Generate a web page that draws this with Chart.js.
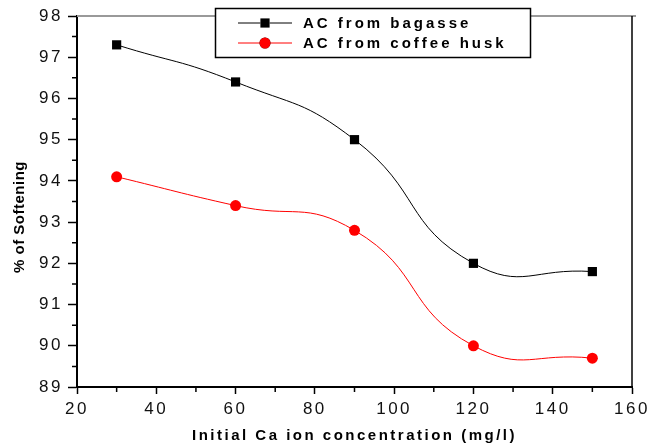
<!DOCTYPE html>
<html>
<head>
<meta charset="utf-8">
<script src="https://cdn.jsdelivr.net/npm/chart.js@4.4.1/dist/chart.umd.min.js"></script>
<style>
  html, body { margin: 0; padding: 0; background: #fff; }
  #wrap { width: 662px; height: 446px; }
</style>
</head>
<body>
<div id="wrap"><canvas id="chart"></canvas></div>
<script>
// data
const concentrations = [30, 60, 90, 120, 150];
const bagasse = [97.3, 96.4, 95.0, 92.0, 91.8];
const coffeeHusk = [94.1, 93.4, 92.8, 90.0, 89.7];
const seriesLabels = ['AC from bagasse', 'AC from coffee husk'];
const xTitle = 'Initial Ca ion concentration (mg/l)';
const yTitle = '% of Softening';

const FONT = "'Liberation Sans', Arial, sans-serif";

const toPoints = (ys) => concentrations.map((x, i) => ({ x: x, y: ys[i] }));

// minor ticks, frame, y title and boxed legend
const decor = {
  id: 'decor',
  beforeDraw(chart) {
    chart.ctx.letterSpacing = '2.5px';
  },
  afterDraw(chart) {
    const ctx = chart.ctx;
    const a = chart.chartArea;
    const xs = chart.scales.x;
    const ys = chart.scales.y;
    ctx.save();
    ctx.letterSpacing = '0px';

    // top & right frame
    ctx.strokeStyle = '#999';
    ctx.lineWidth = 2;
    ctx.beginPath();
    ctx.moveTo(a.left, a.top);
    ctx.lineTo(a.right + 4, a.top);
    ctx.stroke();
    ctx.strokeStyle = '#000';
    ctx.lineWidth = 1.5;
    ctx.beginPath();
    ctx.moveTo(a.right, a.top);
    ctx.lineTo(a.right, a.bottom);
    ctx.stroke();

    // minor ticks
    ctx.lineWidth = 1.5;
    ctx.beginPath();
    for (let v = 30; v < 160; v += 20) {
      const px = xs.getPixelForValue(v);
      ctx.moveTo(px, a.bottom);
      ctx.lineTo(px, a.bottom + 5);
    }
    for (let v = 89.5; v < 98; v += 1) {
      const py = ys.getPixelForValue(v);
      ctx.moveTo(a.left - 5, py);
      ctx.lineTo(a.left, py);
    }
    ctx.stroke();

    // y title
    ctx.fillStyle = '#000';
    ctx.font = 'bold 15px ' + FONT;
    ctx.letterSpacing = '0.5px';
    ctx.textAlign = 'center';
    ctx.textBaseline = 'middle';
    ctx.translate(20, 217);
    ctx.rotate(-Math.PI / 2);
    ctx.fillText(yTitle, 0, 0);
    ctx.restore();

    // legend
    ctx.save();
    ctx.fillStyle = '#fff';
    ctx.fillRect(215, 8, 315, 49);
    ctx.strokeStyle = '#000';
    ctx.lineWidth = 1.5;
    ctx.strokeRect(215.5, 8.5, 315, 49);
    chart.data.datasets.forEach((ds, i) => {
      const y = 23 + i * 20;
      ctx.strokeStyle = ds.borderColor;
      ctx.lineWidth = 1;
      ctx.beginPath();
      ctx.moveTo(238, y);
      ctx.lineTo(292, y);
      ctx.stroke();
      Chart.helpers.drawPoint(ctx, {
        pointStyle: ds.pointStyle,
        radius: ds.pointRadius,
        borderWidth: 0
      }, 265, y);
      ctx.fillStyle = ds.backgroundColor;
      ctx.fill();
      ctx.fillStyle = '#000';
      ctx.font = 'bold 15px ' + FONT;
      ctx.letterSpacing = '3px';
      ctx.textAlign = 'left';
      ctx.textBaseline = 'middle';
      ctx.fillText(ds.label, 303, y + 1);
    });
    ctx.restore();
  }
};

new Chart(document.getElementById('chart'), {
  type: 'line',
  data: {
    datasets: [{
      label: seriesLabels[0],
      data: toPoints(bagasse),
      borderColor: '#000',
      backgroundColor: '#000',
      borderWidth: 1,
      pointStyle: 'rect',
      pointRadius: 6.5,
      pointBorderWidth: 0,
      tension: 0.5
    }, {
      label: seriesLabels[1],
      data: toPoints(coffeeHusk),
      borderColor: '#ff0000',
      backgroundColor: '#ff0000',
      borderWidth: 1,
      pointStyle: 'circle',
      pointRadius: 5.5,
      pointBorderWidth: 0,
      tension: 0.5
    }]
  },
  options: {
    responsive: true,
    maintainAspectRatio: false,
    animation: false,
    layout: { padding: { top: 16, right: 30, left: 0, bottom: 0 } },
    plugins: {
      legend: { display: false },
      tooltip: { enabled: false }
    },
    scales: {
      x: {
        type: 'linear',
        min: 20,
        max: 160,
        afterFit: (s) => { s.height = 59; },
        ticks: {
          stepSize: 20,
          color: '#111',
          padding: 5,
          font: { family: FONT, size: 17 },
          maxRotation: 0
        },
        grid: { drawOnChartArea: false, tickLength: 7, tickColor: '#000', tickWidth: 1.5 },
        border: { color: '#000', width: 2 },
        title: {
          display: true,
          text: xTitle,
          color: '#000',
          font: { family: FONT, size: 15, weight: 'bold' },
          padding: { top: 0, bottom: 1 }
        }
      },
      y: {
        min: 89,
        max: 98,
        afterFit: (s) => { s.width = 77; },
        ticks: {
          stepSize: 1,
          color: '#111',
          padding: 5,
          font: { family: FONT, size: 17 }
        },
        grid: { drawOnChartArea: false, tickLength: 9, tickColor: '#000', tickWidth: 1.5 },
        border: { color: '#000', width: 2 }
      }
    }
  },
  plugins: [decor]
});
</script>
</body>
</html>
